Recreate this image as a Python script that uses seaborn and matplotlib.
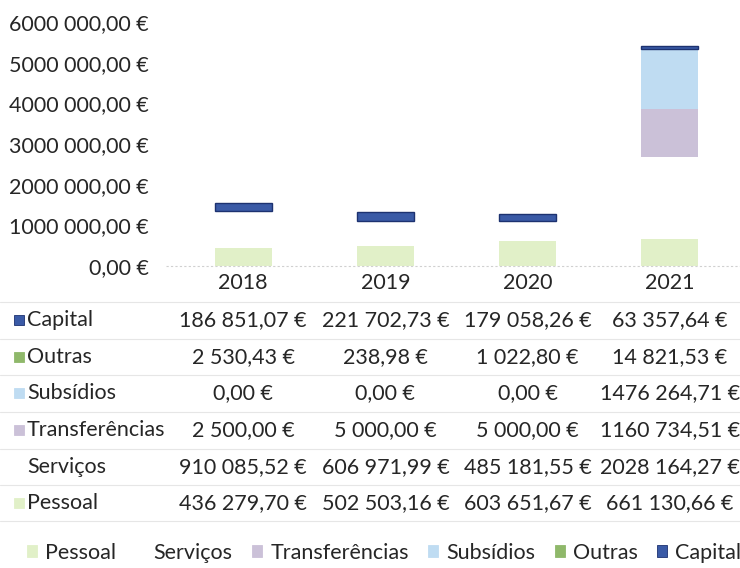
import matplotlib
matplotlib.use("Agg")
import matplotlib.pyplot as plt
import seaborn as sns
import numpy as np
import pandas as pd
from matplotlib.patches import Rectangle, Patch
from matplotlib.lines import Line2D
from matplotlib.transforms import blended_transform_factory

years = ["2018", "2019", "2020", "2021"]
series_names = ["Pessoal", "Serviços", "Transferências", "Subsídios", "Outras", "Capital"]
pessoal = [436279.70, 502503.16, 603651.67, 661130.66]
servicos = [910085.52, 606971.99, 485181.55, 2028164.27]
transferencias = [2500.00, 5000.00, 5000.00, 1160734.51]
subsidios = [0.00, 0.00, 0.00, 1476264.71]
outras = [2530.43, 238.98, 1022.80, 14821.53]
capital = [186851.07, 221702.73, 179058.26, 63357.64]
ytick_values = [0, 1000000, 2000000, 3000000, 4000000, 5000000, 6000000]

colors = {
    "Pessoal": "#e1f0c8",
    "Serviços": "#ffffff",
    "Transferências": "#cbc1d8",
    "Subsídios": "#bfdcf2",
    "Outras": "#8fb86a",
    "Capital": "#3a5aa6",
}
edges = {"Capital": "#1d3270"}

data = {"Pessoal": pessoal, "Serviços": servicos, "Transferências": transferencias,
        "Subsídios": subsidios, "Outras": outras, "Capital": capital}


def fmt(v):
    s = f"{v:.2f}"
    ip, dp = s.split(".")
    if len(ip) > 3:
        ip = ip[:-3] + " " + ip[-3:]
    return f"{ip},{dp} €"


sns.set_theme(style="white")
plt.rcParams["font.family"] = ["Lato", "DejaVu Sans"]
FS = 15.5
TXT = "#262626"

fig = plt.figure(figsize=(7.4, 5.68), dpi=100)
W, H = 740, 568
ax = fig.add_axes([172 / W, 1 - 266 / H, (741 - 172) / W, 244 / H])

df = pd.DataFrame(data, index=years)
bottoms = df[series_names].cumsum(axis=1) - df[series_names]
for name in series_names:
    d = pd.DataFrame({"year": years, "value": data[name]})
    sns.barplot(data=d, x="year", y="value", color=colors[name], width=0.4,
                bottom=bottoms[name].values,
                edgecolor=edges.get(name, colors[name]),
                linewidth=1.0 if name == "Capital" else 0,
                saturation=1, ax=ax, order=years)

ax.set_ylim(0, 6000000)
ax.set_yticks(ytick_values)
ax.set_yticklabels([fmt(v) for v in ytick_values])
ax.set_xlabel("")
ax.set_ylabel("")
for s in ax.spines.values():
    s.set_visible(False)
ax.tick_params(axis="y", length=0, pad=17, labelsize=FS, labelcolor=TXT)
ax.tick_params(axis="x", length=0, pad=5, labelsize=FS, labelcolor=TXT)
ax.axhline(0, color="#d0d0d0", lw=0.8, ls=(0, (2, 2)), xmin=-0.01, clip_on=False)

# data table
trans = blended_transform_factory(ax.transData, fig.transFigure)
row_y = {"Capital": 320, "Outras": 357, "Subsídios": 393, "Transferências": 430,
         "Serviços": 467, "Pessoal": 503}
for name, yy in row_y.items():
    yf = 1 - yy / H
    fig.text(27 / W, yf, name, ha="left", va="center", fontsize=FS, color=TXT)
    if name != "Serviços":
        fig.add_artist(Rectangle((14 / W, yf - 5 / H), 10 / W, 10 / H, transform=fig.transFigure,
                                 facecolor=colors[name], edgecolor=edges.get(name, colors[name]),
                                 lw=0.6))
    for i, v in enumerate(data[name]):
        ax.text(i, yf, fmt(v), transform=trans, ha="center", va="center",
                fontsize=FS, color=TXT, clip_on=False)

for yy in [302, 339, 375, 412, 449, 485, 521]:
    fig.add_artist(Line2D([0, 1], [1 - yy / H, 1 - yy / H], transform=fig.transFigure,
                          color="#e6e6e6", lw=0.8))

handles = [Patch(facecolor=colors[n], edgecolor=edges.get(n, colors[n]), lw=0.6) for n in series_names]
fig.legend(handles, series_names, loc="center", bbox_to_anchor=(0.519, 1 - 553 / H), ncol=6,
           frameon=False, fontsize=FS, handlelength=0.47, handleheight=0.47,
           handletextpad=0.37, columnspacing=0.9, labelcolor=TXT, borderpad=0.1,
           borderaxespad=0)

fig.savefig("out.png", dpi=100)
